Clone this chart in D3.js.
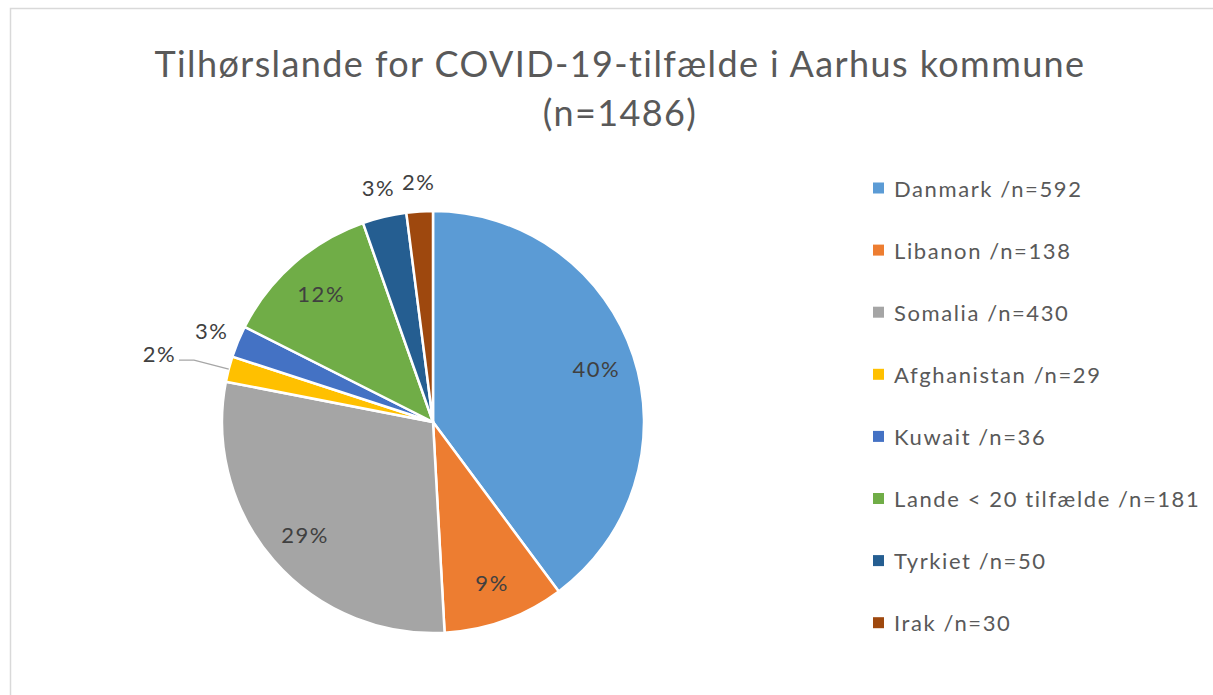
<!DOCTYPE html>
<html>
<head>
<meta charset="utf-8">
<script src="https://cdn.jsdelivr.net/npm/d3@7"></script>
<style>
  body { margin: 0; background: #fff; }
  svg { display: block; font-family: Lato, "Open Sans", sans-serif; font-variant-ligatures: none; }
</style>
</head>
<body>
<div id="chart"></div>
<script>
const countries = ["Danmark", "Libanon", "Somalia", "Afghanistan", "Kuwait", "Lande < 20 tilfælde", "Tyrkiet", "Irak"];
const cases = [592, 138, 430, 29, 36, 181, 50, 30];
// percentage labels as printed on the slices
const pctLabels = ["40%", "9%", "29%", "2%", "3%", "12%", "3%", "2%"];
const colors = ["#5B9BD5", "#ED7D31", "#A5A5A5", "#FFC000", "#4472C4", "#70AD47", "#255E91", "#9E480E"];
const titleLines = ["Tilhørslande for COVID-19-tilfælde i Aarhus kommune", "(n=1486)"];

const width = 1213;
const height = 695;
const cx = 433, cy = 422, radius = 211;

const data = countries.map((c, i) => ({ name: c, value: cases[i], pct: pctLabels[i], color: colors[i] }));

const svg = d3.select("#chart")
    .append("svg")
    .attr("width", width)
    .attr("height", height);

// chart frame
svg.append("rect")
    .attr("x", 10.5)
    .attr("y", 8.5)
    .attr("width", width + 20)
    .attr("height", height + 20)
    .attr("fill", "#fff")
    .attr("stroke", "#d9d9d9")
    .attr("stroke-width", 1.5);

// title
svg.append("text")
    .attr("text-anchor", "middle")
    .attr("fill", "#595959")
    .style("font-size", "36px")
    .style("letter-spacing", "1.4px")
    .selectAll("tspan")
    .data(titleLines)
    .join("tspan")
    .attr("x", 620)
    .attr("y", (d, i) => 77 + i * 49)
    .text(d => d);

const pie = d3.pie().value(d => d.value).sort(null);
const arcs = pie(data);
const arc = d3.arc().innerRadius(0).outerRadius(radius);
const inner = d3.arc().innerRadius(radius * 0.81).outerRadius(radius * 0.81);
const outer = d3.arc().innerRadius(radius * 1.14).outerRadius(radius * 1.14);
const elbow = d3.arc().innerRadius(radius * 1.17).outerRadius(radius * 1.17);

const g = svg.append("g").attr("transform", `translate(${cx},${cy})`);

g.selectAll("path")
    .data(arcs)
    .join("path")
    .attr("d", arc)
    .attr("fill", d => d.data.color)
    .attr("stroke", "#fff")
    .attr("stroke-width", 2.5)
    .attr("stroke-linejoin", "round");

const isOutside = d => (d.endAngle - d.startAngle) < 0.05 * 2 * Math.PI;
const needsLeader = d => d.data.name === "Afghanistan";

// leader line for the crowded label
g.selectAll("polyline")
    .data(arcs.filter(needsLeader))
    .join("polyline")
    .attr("points", d => {
        const ang = (d.startAngle + d.endAngle) / 2;
        const p0 = [Math.sin(ang) * radius, -Math.cos(ang) * radius];
        const p1 = elbow.centroid(d);
        const p2 = [p1[0] - 15, p1[1]];
        return [p0, p1, p2].map(p => p.join(",")).join(" ");
    })
    .attr("fill", "none")
    .attr("stroke", "#a6a6a6")
    .attr("stroke-width", 1.3);

g.selectAll("text.pct")
    .data(arcs)
    .join("text")
    .attr("class", "pct")
    .attr("fill", "#404040")
    .style("font-size", "22px")
    .style("letter-spacing", "1.5px")
    .attr("dominant-baseline", "central")
    .attr("text-anchor", d => needsLeader(d) ? "end" : "middle")
    .attr("transform", d => {
        if (needsLeader(d)) {
            const p = elbow.centroid(d);
            return `translate(${p[0] - 18},${p[1] - 7})`;
        }
        const p = isOutside(d) ? outer.centroid(d) : inner.centroid(d);
        return `translate(${p[0] + 1},${p[1]})`;
    })
    .text(d => d.data.pct);

// legend
const legend = svg.append("g")
    .selectAll("g")
    .data(data)
    .join("g")
    .attr("transform", (d, i) => `translate(873,${188 + i * 62.1})`);

legend.append("rect")
    .attr("x", 0)
    .attr("y", -5.5)
    .attr("width", 11)
    .attr("height", 11)
    .attr("fill", d => d.color);

legend.append("text")
    .attr("x", 21)
    .attr("y", 0)
    .attr("dominant-baseline", "central")
    .attr("fill", "#595959")
    .style("font-size", "22px")
    .style("letter-spacing", "1.6px")
    .text(d => `${d.name} /n=${d.value}`);
</script>
</body>
</html>
